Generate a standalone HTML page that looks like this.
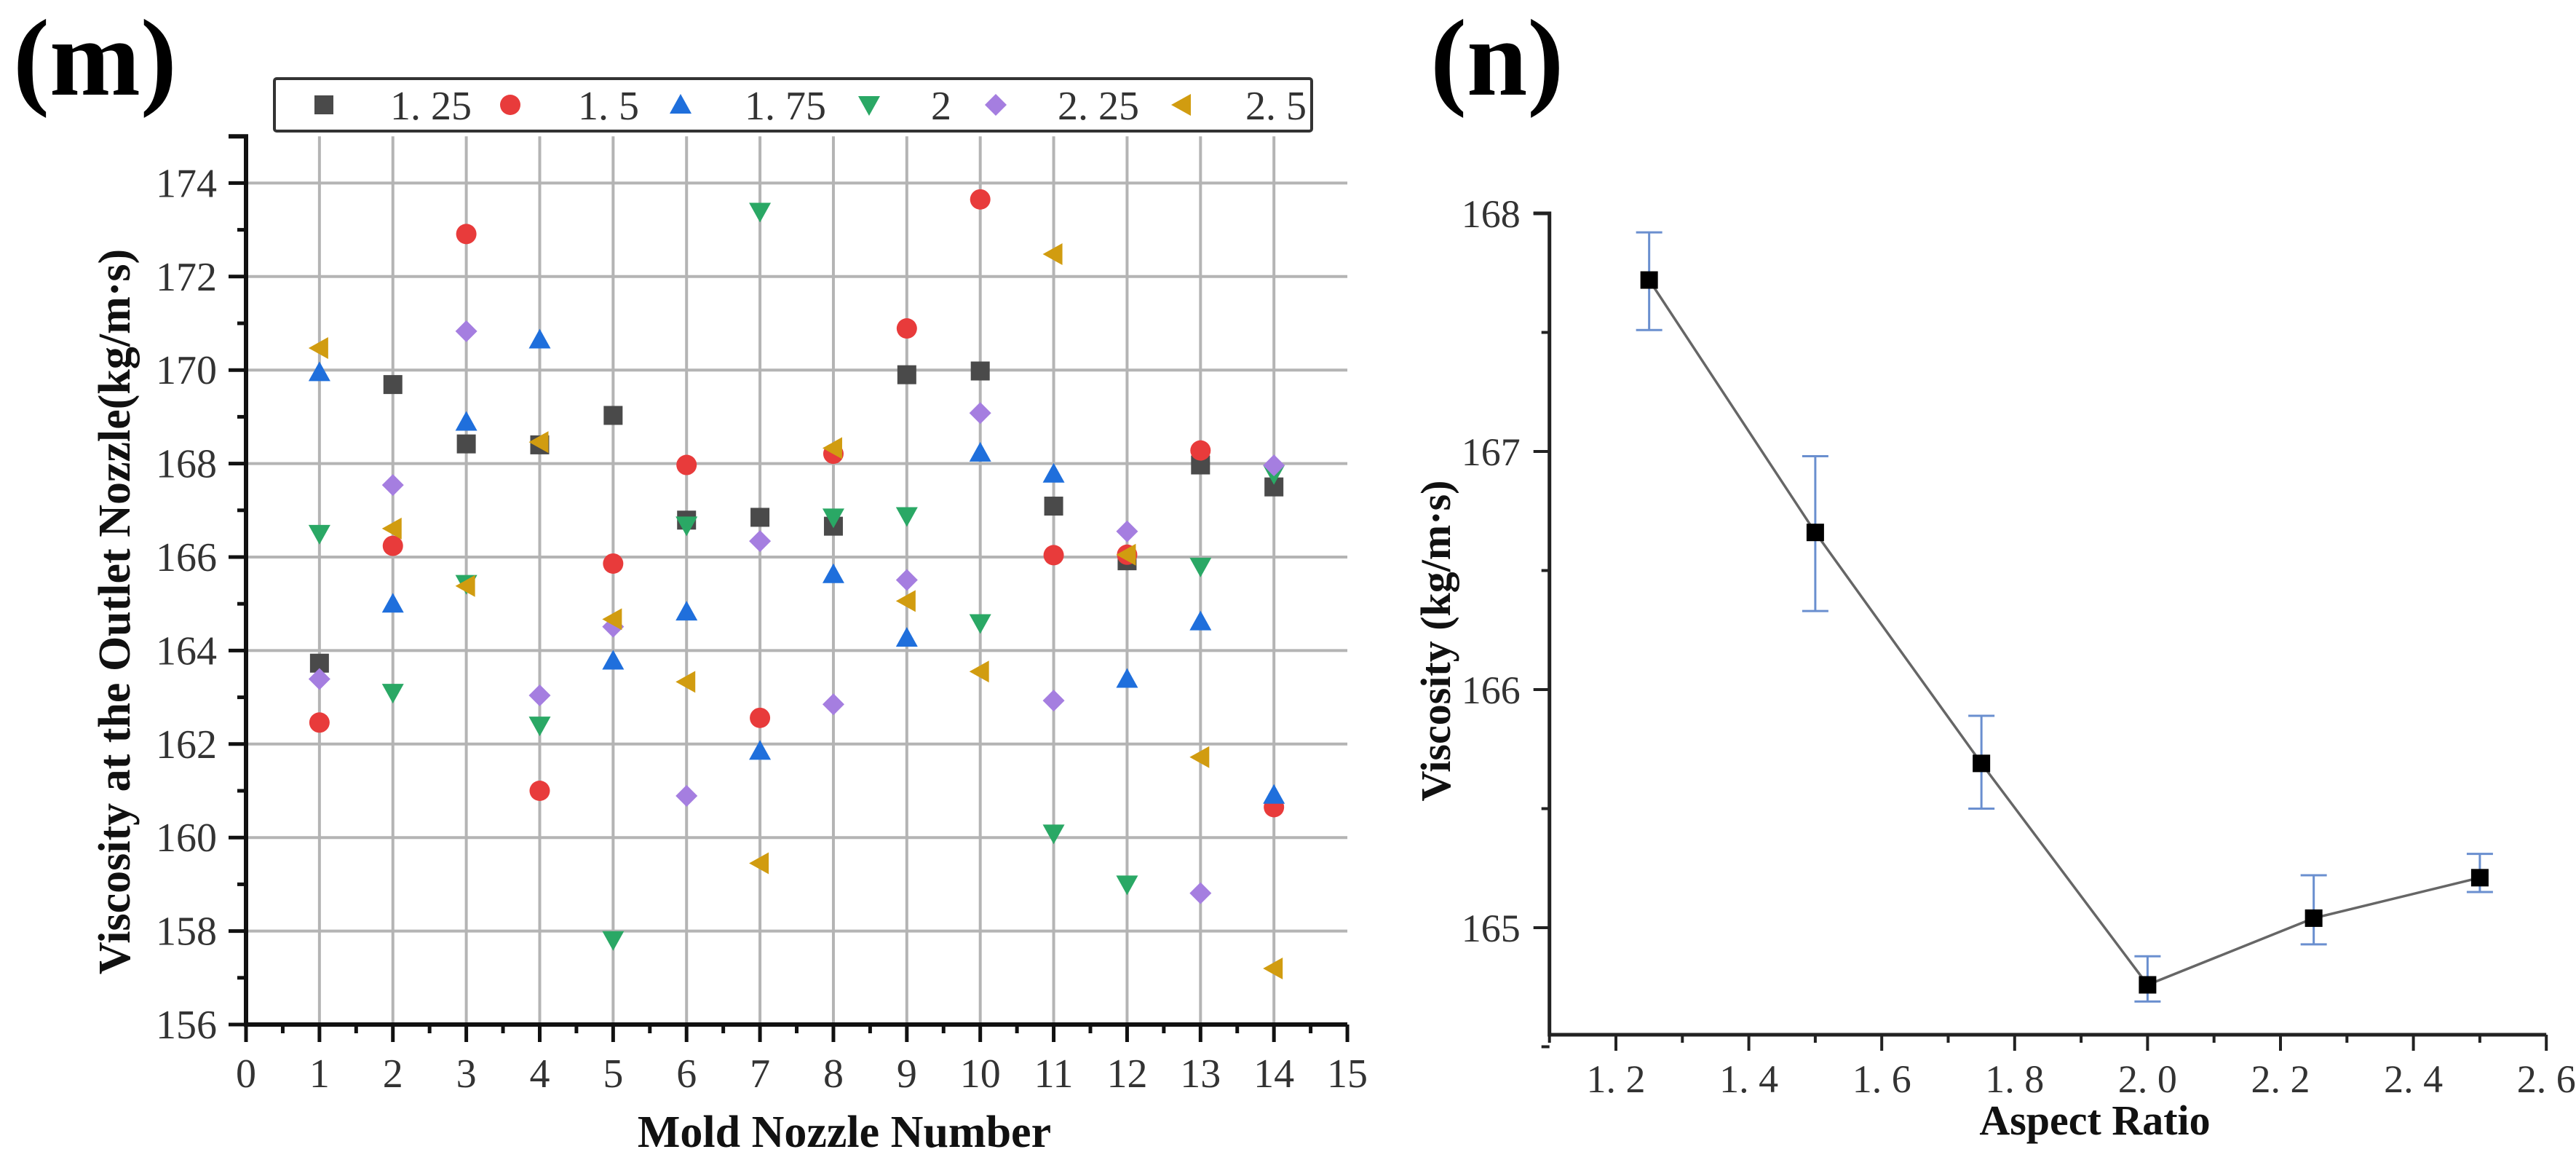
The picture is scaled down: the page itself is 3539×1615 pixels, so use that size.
<!DOCTYPE html>
<html><head><meta charset="utf-8">
<style>
html,body{margin:0;padding:0;background:#fff;}
svg{display:block;font-family:"Liberation Serif",serif;}
</style></head>
<body>
<svg id="fig" width="3539" height="1615" viewBox="0 0 3539 1615" xmlns="http://www.w3.org/2000/svg">
  <text x="18" y="130" font-size="150" font-weight="bold">(m)</text>
  <text x="1965" y="130" font-size="150" font-weight="bold">(n)</text>
  <g id="chartM"></g>
  <g id="chartN"></g>
</svg>
<script>
// ---------- Chart m data ----------
const nozzles = [1,2,3,4,5,6,7,8,9,10,11,12,13,14];
const seriesNames = ["1. 25","1. 5","1. 75","2","2. 25","2. 5"];
const s125 = [163.73,169.69,168.42,168.4,169.03,166.79,166.85,166.66,169.9,169.98,167.09,165.92,167.97,167.5];
const s150 = [162.46,166.24,172.91,161.0,165.86,167.97,162.56,168.21,170.89,173.65,166.04,166.05,168.28,160.65];
const s175 = [169.95,165.0,168.89,170.65,163.78,164.83,161.85,165.63,164.27,168.23,167.78,163.39,164.62,160.91];
const s200 = [166.5,163.1,165.43,162.4,157.81,166.68,173.39,166.85,166.88,164.59,160.09,159.0,165.8,167.78];
const s225 = [163.39,167.54,170.83,163.04,164.51,160.89,166.34,162.85,165.51,169.08,162.93,166.55,158.81,167.96];
const s250 = [170.47,166.61,165.38,168.46,164.67,163.33,159.45,168.33,165.06,163.55,172.48,166.05,161.72,157.2];
const mXTicks = [0,1,2,3,4,5,6,7,8,9,10,11,12,13,14,15];
const mYTicks = [156,158,160,162,164,166,168,170,172,174];

// ---------- Chart n data ----------
const ratios = [1.25,1.5,1.75,2.0,2.25,2.5];
const meanVisc = [167.72,166.66,165.69,164.76,165.04,165.21];
const errHigh = [167.92,166.98,165.89,164.88,165.22,165.31];
const errLow = [167.51,166.33,165.50,164.69,164.93,165.15];
const nXTicks = ["1. 2","1. 4","1. 6","1. 8","2. 0","2. 2","2. 4","2. 6"];
const nXTickVals = [1.2,1.4,1.6,1.8,2.0,2.2,2.4,2.6];
const nYTicks = [165,166,167,168];

const NS="http://www.w3.org/2000/svg";
function mk(parent,tag,attrs,txt){const e=document.createElementNS(NS,tag);for(const k in attrs)e.setAttribute(k,attrs[k]);if(txt!==undefined)e.textContent=txt;parent.appendChild(e);return e;}

// ===== Chart m =====
(function(){
const g=document.getElementById('chartM');
const X0=338, XS=100.87, Y0=1407, YS=64.2;
const xs=v=>X0+v*XS, ys=v=>Y0-(v-156)*YS;
const yTop=ys(175);
nozzles.forEach(n=>{
  const l=mk(g,'line',{x1:xs(n),x2:xs(n),y1:yTop,y2:Y0,stroke:'#b4b4b4','stroke-width':4});
  
  
});
mYTicks.slice(1).forEach(v=>{
  const l=mk(g,'line',{x1:X0,x2:xs(15),y1:ys(v),y2:ys(v),stroke:'#b4b4b4','stroke-width':4});
  
  
});
const ax=mk(g,'path',{d:`M${X0-24} ${yTop} H${X0} V${Y0} H${xs(15)}`,fill:'none',stroke:'#111','stroke-width':6});


for(let v=156;v<=175;v+=1){
  const major=(v%2===0);
  const t=mk(g,'line',{x1:X0-(major?24:12),x2:X0,y1:ys(v),y2:ys(v),stroke:'#111','stroke-width':5});
  
  
}
for(let v=0;v<=15;v+=0.5){
  const major=Number.isInteger(v);
  const t=mk(g,'line',{x1:xs(v),x2:xs(v),y1:Y0,y2:Y0+(major?24:12),stroke:'#111','stroke-width':5});
  
  
}
mYTicks.forEach(v=>{
  const t=mk(g,'text',{x:X0-40,y:ys(v)+19,'text-anchor':'end','font-size':56,fill:'#333'},String(v));
  
  
});
mXTicks.forEach(v=>{
  const t=mk(g,'text',{x:xs(v),y:1493,'text-anchor':'middle','font-size':56,fill:'#333'},String(v));
  
  
});
const yt=mk(g,'text',{x:0,y:0,transform:'translate(178,840) rotate(-90)','text-anchor':'middle','font-size':62,'font-weight':'bold',fill:'#111'},'Viscosity at the Outlet Nozzle(kg/m·s)');


const xt=mk(g,'text',{x:1160,y:1575,'text-anchor':'middle','font-size':62,'font-weight':'bold',fill:'#111'},'Mold Nozzle Number');



function marker(parent,type,cx,cy,color){
  const r=15;
  if(type==='square') return mk(parent,'rect',{x:cx-13,y:cy-13,width:26,height:26,fill:color});
  if(type==='circle') return mk(parent,'circle',{cx:cx,cy:cy,r:14,fill:color});
  if(type==='up') return mk(parent,'polygon',{points:`${cx},${cy-r} ${cx+r},${cy+r*0.8} ${cx-r},${cy+r*0.8}`,fill:color});
  if(type==='down') return mk(parent,'polygon',{points:`${cx},${cy+r} ${cx+r},${cy-r*0.8} ${cx-r},${cy-r*0.8}`,fill:color});
  if(type==='diamond') return mk(parent,'polygon',{points:`${cx},${cy-r} ${cx+r},${cy} ${cx},${cy+r} ${cx-r},${cy}`,fill:color});
  if(type==='left') return mk(parent,'polygon',{points:`${cx-r},${cy} ${cx+r*0.8},${cy-r} ${cx+r*0.8},${cy+r}`,fill:color});
}
const allSeries=[s125,s150,s175,s200,s225,s250];
const types=['square','circle','up','down','diamond','left'];
const colors=['#4a4a4a','#e83b3b','#1f6fdc','#2aa865','#a57ee0','#d19c10'];
const snames=['series-1-25','series-1-5','series-1-75','series-2','series-2-25','series-2-5'];
allSeries.forEach((arr,si)=>{
  const sg=mk(g,'g',{});
  
  
  arr.forEach((v,i)=>{
    const m=marker(sg,types[si],xs(nozzles[i]),ys(v),colors[si]);
    
    
  });
});
const lg=mk(g,'g',{});


const lb=mk(lg,'rect',{x:377,y:108,width:1425,height:72,fill:'#fff',stroke:'#333','stroke-width':4,rx:3});


const mkX=[445,701,935,1194,1368,1624];
const txX=[536,794,1023,1279,1453,1711];
seriesNames.forEach((nm,i)=>{
  const e=mk(lg,'g',{});
  
  
  marker(e,types[i],mkX[i],144,colors[i]);
  mk(e,'text',{x:txX[i],y:164,'font-size':56,fill:'#333'},nm);
});
})();

// ===== Chart n =====
(function(){
const g=document.getElementById('chartN');
const X0=2220, XS=913, Y0=293, YS=327;
const xs=v=>X0+(v-1.2)*XS, ys=v=>Y0+(168-v)*YS;
const axB=1421, axL=xs(1.1), axR=xs(2.6);
const ax=mk(g,'path',{d:`M${axL-22} ${Y0} H${axL} V${axB} H${axR}`,fill:'none',stroke:'#222','stroke-width':5});


for(let v=164.5;v<=168.001;v+=0.5){
  const major=Math.abs(v-Math.round(v))<1e-6;
  const t=mk(g,'line',{x1:axL-(major?22:11),x2:axL,y1:ys(v),y2:ys(v),stroke:'#222','stroke-width':4});
  
  
}
for(let k=0;k<=15;k++){
  const v=1.1+k*0.1;
  const major=(k%2===1);
  const t=mk(g,'line',{x1:xs(v),x2:xs(v),y1:axB,y2:axB+(major?22:11),stroke:'#222','stroke-width':4});
  
  
}
nYTicks.forEach(v=>{
  const t=mk(g,'text',{x:axL-40,y:ys(v)+19,'text-anchor':'end','font-size':54,fill:'#333'},String(v));
  
  
});
nXTicks.forEach((lab,i)=>{
  const t=mk(g,'text',{x:xs(nXTickVals[i]),y:1500,'text-anchor':'middle','font-size':54,fill:'#333'},lab);
  
  
});
const yt=mk(g,'text',{x:0,y:0,transform:'translate(1992,880) rotate(-90)','text-anchor':'middle','font-size':58,'font-weight':'bold',fill:'#111'},'Viscosity (kg/m·s)');


const xt=mk(g,'text',{x:2878,y:1558,'text-anchor':'middle','font-size':58,'font-weight':'bold',fill:'#111'},'Aspect Ratio');


const pts=ratios.map((r,i)=>`${xs(r)},${ys(meanVisc[i])}`).join(' ');
const ln=mk(g,'polyline',{points:pts,fill:'none',stroke:'#666','stroke-width':3.5});


ratios.forEach((r,i)=>{
  const cx=xs(r);
  const eb=mk(g,'path',{d:`M${cx} ${ys(errHigh[i])} V${ys(errLow[i])} M${cx-18} ${ys(errHigh[i])} H${cx+18} M${cx-18} ${ys(errLow[i])} H${cx+18}`,fill:'none',stroke:'#6a8fcf','stroke-width':3});
  
  
  const m=mk(g,'rect',{x:cx-12,y:ys(meanVisc[i])-12,width:24,height:24,fill:'#000'});
  
  
});
})();
</script>
</body></html>
